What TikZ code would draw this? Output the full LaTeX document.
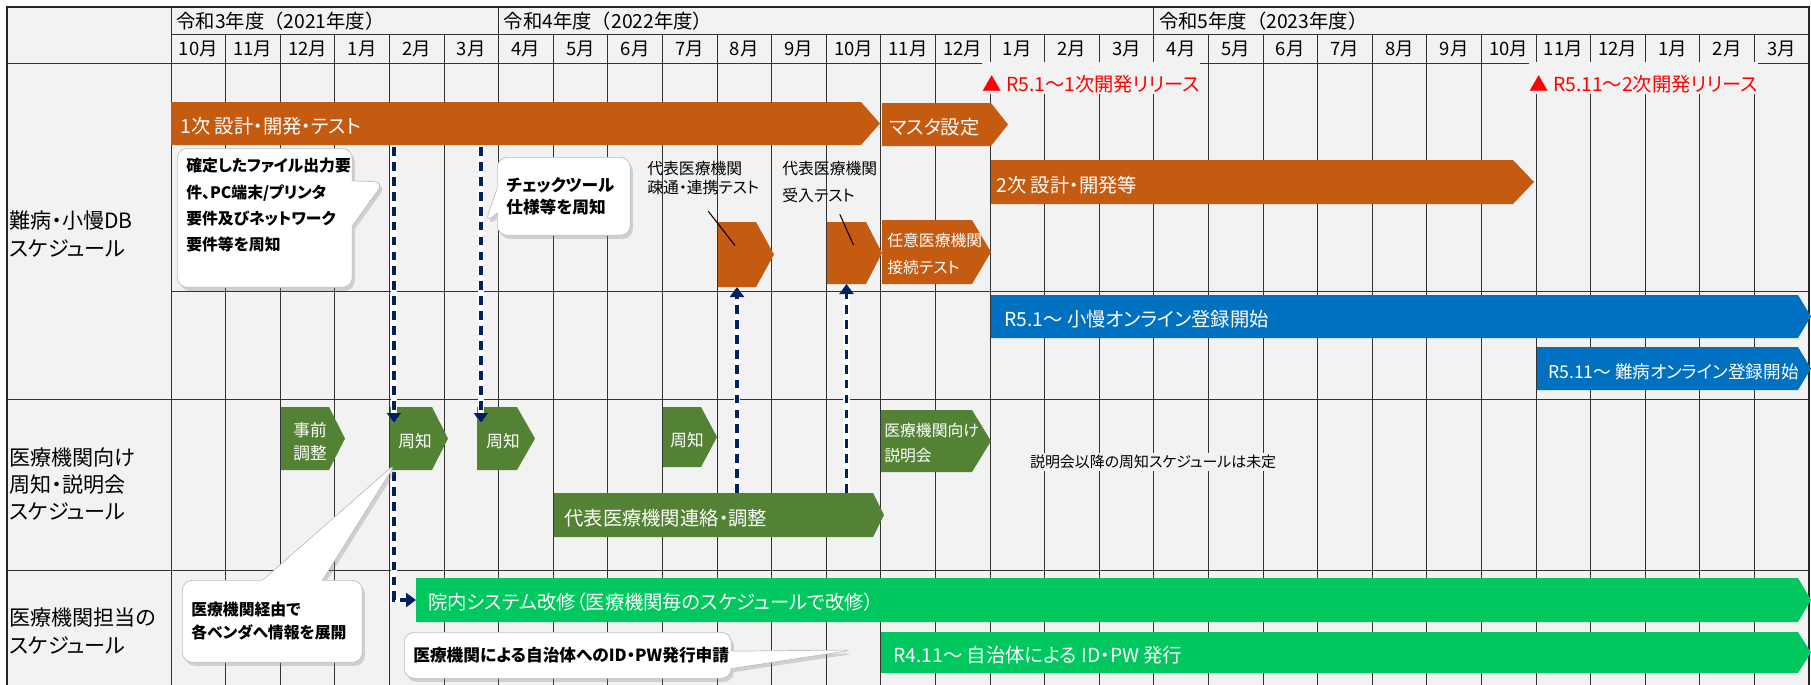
\documentclass[tikz,border=0pt]{standalone}
\usepackage{fontspec}
\setmainfont{Noto Sans CJK JP}[CharacterWidth=AlternateProportional]
\newfontfamily\jpwide{Noto Sans CJK JP}
\usetikzlibrary{shapes,arrows.meta,positioning,calc,fit,shadows}

\definecolor{bggray}{HTML}{F2F2F2}
\definecolor{orng}{HTML}{C55A11}
\definecolor{dgreen}{HTML}{548235}
\definecolor{lgreen}{RGB}{0,200,95}
\definecolor{blu}{HTML}{0070C0}
\definecolor{navy}{HTML}{002060}
\definecolor{redtx}{HTML}{FF0000}

\begin{document}
\begin{tikzpicture}[x=0.02cm, y=-0.02cm,
  gridln/.style={draw=black!80, line width=0.5pt},
  hdr/.style={font=\fontsize{10.5pt}{12pt}\selectfont, inner sep=0pt},
  fyhdr/.style={font=\jpwide\fontsize{11pt}{12pt}\selectfont, inner sep=0pt, anchor=west},
  rowlab/.style={font=\fontsize{12pt}{15.5pt}\selectfont, align=left, anchor=west, inner sep=0pt},
  barbody/.style={inner sep=0pt, outer sep=0pt},
  bartxt/.style={text=white, font=\fontsize{11pt}{13pt}\selectfont, anchor=west, inner sep=0pt},
  boxtxt/.style={text=white, font=\fontsize{9.5pt}{13pt}\selectfont, align=left, anchor=west, inner sep=0pt},
  smalltxt/.style={font=\fontsize{9pt}{13pt}\selectfont, align=left, anchor=west, inner sep=0pt},
  release/.style={text=redtx, font=\fontsize{11pt}{13pt}\selectfont, fill=bggray, inner sep=0pt, anchor=base west, text height=0.58cm, text depth=0.06cm},
  note/.style={rectangle callout, draw=black!25, fill=white, rounded corners=0.2cm,
    drop shadow={shadow xshift=0.05cm, shadow yshift=-0.07cm, opacity=0.3},
    font=\fontsize{9pt}{13pt}\selectfont\bfseries, align=left, inner xsep=0.18cm, inner ysep=0.1cm, anchor=north west},
  dconn/.style={draw=navy, line width=2.2pt, dash pattern=on 5pt off 3.5pt,
    -{Triangle[length=0.2cm, width=0.28cm]}, preaction={draw=white, line width=3.8pt, solid}}
]
\useasboundingbox (0,0) rectangle (1811,684);

% table
\fill[bggray] (7,7) rectangle (1809,690);
\draw[gridln] (171,34) -- (1809,34);
\draw[gridln] (7,63) -- (1809,63);
\draw[gridln] (171,291) -- (1809,291);
\draw[gridln] (7,399) -- (1809,399);
\draw[gridln] (7,570) -- (1809,570);
\foreach \k in {1,...,29}
  \draw[gridln] ({171+54.6*\k},34) -- ({171+54.6*\k},690);
\draw[gridln] ({171+54.6*6},7) -- ({171+54.6*6},34);
\draw[gridln] ({171+54.6*18},7) -- ({171+54.6*18},34);
\draw[gridln] (171,7) -- (171,690);
\draw[black!85, line width=0.7pt] (7,7) rectangle (1809,690);

% header
\node[fyhdr] (fy21) at (176,21) {令和3年度（2021年度）};
\node[fyhdr] (fy22) at ({171+54.6*6+5},21) {令和4年度（2022年度）};
\node[fyhdr] (fy23) at ({171+54.6*18+5},21) {令和5年度（2023年度）};
\foreach \m [count=\i from 0] in {10,11,12,1,2,3,4,5,6,7,8,9,10,11,12,1,2,3,4,5,6,7,8,9,10,11,12,1,2,3}
  \node[hdr] (m\i) at ({171+54.6*(\i+0.5)},49) {\m{}月};

\node[rowlab] (sec1) at (9,234) {難病・小慢DB\\スケジュール};
\node[rowlab] (sec2) at (9,484) {医療機関向け\\周知・説明会\\スケジュール};
\node[rowlab] (sec3) at (9,631) {医療機関担当の\\スケジュール};

% releases
\node[release] (rel1) at (982,91) {▲ R5.1～1次開発リリース};
\node[release] (rel2) at (1529,91) {▲ R5.11～2次開発リリース};

% section 1 bars
\node[barbody, fit={(171,102) (861,145)}] (p1) {};
\fill[orng] (p1.north west) -- (p1.north east) -- ($(p1.east)+(19,0)$) -- (p1.south east) -- (p1.south west) -- cycle;
\node[bartxt] (p1t) at ($(p1.west)+(9,3)$) {1次 設計・開発・テスト};
\node[barbody, fit={(882,103) (991,146)}] (p2) {};
\fill[orng] (p2.north west) -- (p2.north east) -- ($(p2.east)+(17,0)$) -- (p2.south east) -- (p2.south west) -- cycle;
\node[bartxt] (p2t) at ($(p2.west)+(7,3)$) {マスタ設定};
\node[barbody, fit={(991,160) (1513,204)}] (p3) {};
\fill[orng] (p3.north west) -- (p3.north east) -- ($(p3.east)+(21,0)$) -- (p3.south east) -- (p3.south west) -- cycle;
\node[bartxt] (p3t) at ($(p3.west)+(5,3)$) {2次 設計・開発等};
\node[barbody, fit={(718,222) (756,287)}] (p4) {};
\fill[orng] (p4.north west) -- (p4.north east) -- ($(p4.east)+(18,0)$) -- (p4.south east) -- (p4.south west) -- cycle;
\node[barbody, fit={(827,222) (866,284)}] (p5) {};
\fill[orng] (p5.north west) -- (p5.north east) -- ($(p5.east)+(16,0)$) -- (p5.south east) -- (p5.south west) -- cycle;
\node[barbody, fit={(882,220) (972,284)}] (p6) {};
\fill[orng] (p6.north west) -- (p6.north east) -- ($(p6.east)+(19,0)$) -- (p6.south east) -- (p6.south west) -- cycle;
\node[boxtxt, font=\fontsize{9pt}{15pt}\selectfont] (p6t) at ($(p6.west)+(5,2)$) {任意医療機関\\接続テスト};
\node[smalltxt, font=\fontsize{9pt}{11pt}\selectfont] (t4) at (647,178) {代表医療機関\\疎通・連携テスト};
\node[smalltxt, font=\fontsize{9pt}{15.5pt}\selectfont] (t5) at (782,182) {代表医療機関\\受入テスト};
\draw[black, line width=0.6pt] ($(t4.south)+(5,16)$) -- ($(p4.center)+(-2,-9)$);
\draw[black, line width=0.6pt] ($(t5.south)+(10,11)$) -- ($(p5.center)+(7,-8)$);

\node[barbody, fit={(991,295) (1798,338)}] (b1) {};
\fill[blu] (b1.north west) -- (b1.north east) -- ($(b1.east)+(13,0)$) -- (b1.south east) -- (b1.south west) -- cycle;
\node[bartxt] (b1t) at ($(b1.west)+(13,3)$) {R5.1～ 小慢オンライン登録開始};
\node[barbody, fit={(1537,347) (1798,390)}] (b2) {};
\fill[blu] (b2.north west) -- (b2.north east) -- ($(b2.east)+(13,0)$) -- (b2.south east) -- (b2.south west) -- cycle;
\node[bartxt, font=\fontsize{10pt}{12pt}\selectfont] (b2t) at ($(b2.west)+(11,3)$) {R5.11～ 難病オンライン登録開始};

% section 2 bars
\node[barbody, fit={(281,407) (329,470)}] (g1) {};
\fill[dgreen] (g1.north west) -- (g1.north east) -- ($(g1.east)+(16,0)$) -- (g1.south east) -- (g1.south west) -- cycle;
\node[boxtxt] (g1t) at ($(g1.west)+(12,3)$) {事前\\調整};
\node[barbody, fit={(390,407) (432,470)}] (g2) {};
\fill[dgreen] (g2.north west) -- (g2.north east) -- ($(g2.east)+(16,0)$) -- (g2.south east) -- (g2.south west) -- cycle;
\node[boxtxt] (g2t) at ($(g2.west)+(8,3)$) {周知};
\node[barbody, fit={(477,407) (517,470)}] (g3) {};
\fill[dgreen] (g3.north west) -- (g3.north east) -- ($(g3.east)+(18,0)$) -- (g3.south east) -- (g3.south west) -- cycle;
\node[boxtxt] (g3t) at ($(g3.west)+(9,3)$) {周知};
\node[barbody, fit={(663,407) (701,467)}] (g4) {};
\fill[dgreen] (g4.north west) -- (g4.north east) -- ($(g4.east)+(16,0)$) -- (g4.south east) -- (g4.south west) -- cycle;
\node[boxtxt] (g4t) at ($(g4.west)+(7,3)$) {周知};
\node[barbody, fit={(881,410) (972,472)}] (g5) {};
\fill[dgreen] (g5.north west) -- (g5.north east) -- ($(g5.east)+(19,0)$) -- (g5.south east) -- (g5.south west) -- cycle;
\node[boxtxt, font=\fontsize{9pt}{14pt}\selectfont] (g5t) at ($(g5.west)+(3,2)$) {医療機関向け\\説明会};
\node[barbody, fit={(554,493) (873,537)}] (g6) {};
\fill[dgreen] (g6.north west) -- (g6.north east) -- ($(g6.east)+(11,0)$) -- (g6.south east) -- (g6.south west) -- cycle;
\node[bartxt] (g6t) at ($(g6.west)+(10,3)$) {代表医療機関連絡・調整};
\node[smalltxt, font=\fontsize{8.5pt}{12pt}\selectfont, fill=bggray, inner sep=1pt] (tbd) at (1028,462) {説明会以降の周知スケジュールは未定};

% section 3 bars
\node[barbody, fit={(416,578) (1798,622)}] (n1) {};
\fill[lgreen] (n1.north west) -- (n1.north east) -- ($(n1.east)+(13,0)$) -- (n1.south east) -- (n1.south west) -- cycle;
\node[bartxt] (n1t) at ($(n1.west)+(12,2)$) {院内システム改修（医療機関毎のスケジュールで改修）};
\node[barbody, fit={(881,632) (1798,673)}] (n2) {};
\fill[lgreen] (n2.north west) -- (n2.north east) -- ($(n2.east)+(13,0)$) -- (n2.south east) -- (n2.south west) -- cycle;
\node[bartxt] (n2t) at ($(n2.west)+(12,3)$) {R4.11～ 自治体による ID・PW 発行};

% dashed links
\coordinate (d1a) at (394,147);
\coordinate (d2a) at (481,147);
\draw[dconn] (d1a) -- ($(g2.north west)+(4,16)$);
\draw[dconn] (d2a) -- ($(g3.north west)+(4,16)$);
\draw[dconn] ($(g2.south west)+(4,2)$) |- (n1.west);
\draw[dconn] (p4.south |- g6.north) -- (p4.south);
\draw[dconn] (p5.south |- g6.north) -- (p5.south);

% callouts
\coordinate (co1tip) at (384,182);
\coordinate (co2tip) at (485,223);
\coordinate (co3tip) at (396,463);
\coordinate (co4tip) at (853,650);
\node[note, text width=3.14cm, minimum height=2.78cm, font=\fontsize{9pt}{15pt}\selectfont\bfseries,
  callout absolute pointer={(co1tip)}, callout pointer width=0.9cm] (co1) at (177,148)
  {確定したファイル出力要\\件、PC端末/プリンタ\\要件及びネットワーク\\要件等を周知\\ \mbox{}};
\node[note, text width=2.30cm, minimum height=1.56cm, font=\fontsize{9.5pt}{13pt}\selectfont\bfseries,
  callout absolute pointer={(co2tip)}, callout pointer width=0.5cm] (co2) at (497,157)
  {チェックツール\\仕様等を周知};
\node[note, text width=3.24cm, minimum height=1.64cm,
  callout absolute pointer={(co3tip)}, callout pointer width=1.2cm] (co3) at (182,580)
  {医療機関経由で\\各ベンダへ情報を展開};
\node[note, text width=6.18cm, minimum height=0.92cm, font=\fontsize{9.5pt}{13pt}\selectfont\bfseries,
  callout absolute pointer={(co4tip)}, callout pointer width=0.35cm] (co4) at (404,632)
  {医療機関による自治体へのID・PW発行申請};
\end{tikzpicture}
\end{document}
